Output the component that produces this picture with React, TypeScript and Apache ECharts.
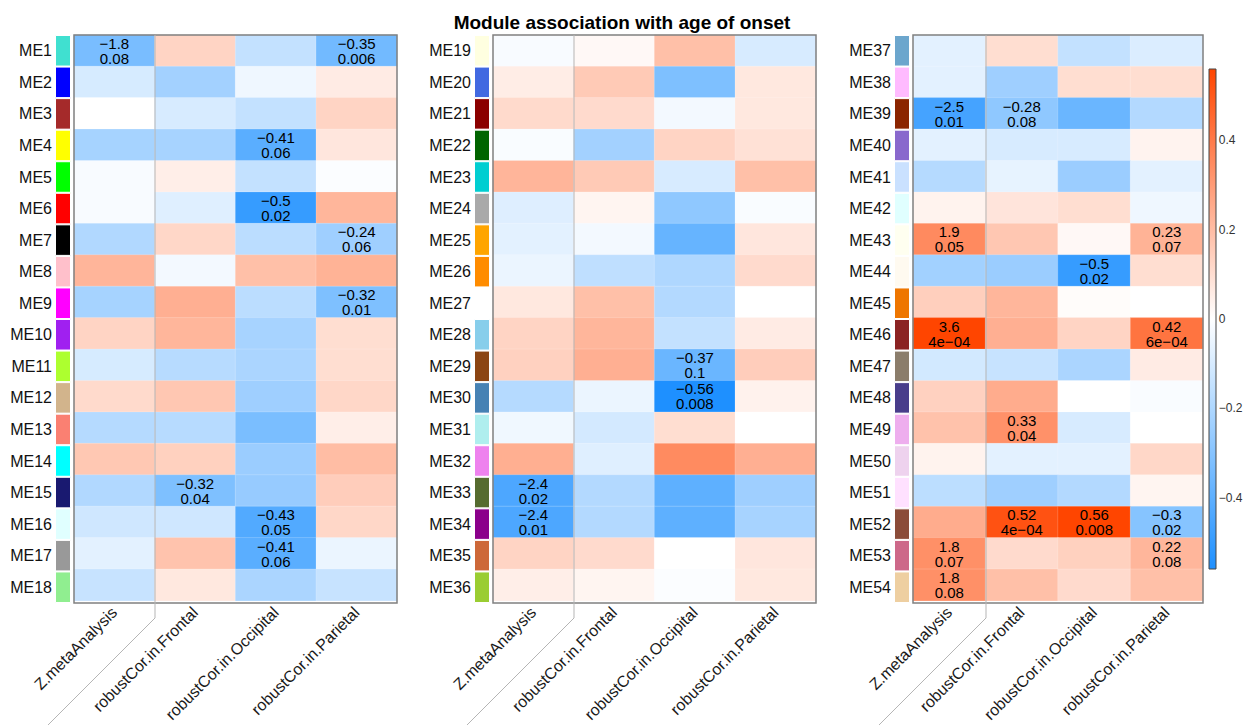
import React, { useEffect, useRef } from "react";
import * as echarts from "echarts";

const FONT = "'Liberation Sans', Arial, Helvetica, sans-serif";

const title = "Module association with age of onset";
const columns = ["Z.metaAnalysis", "robustCor.in.Frontal", "robustCor.in.Occipital", "robustCor.in.Parietal"];
const modules = [
  "ME1", "ME2", "ME3", "ME4", "ME5", "ME6", "ME7", "ME8", "ME9", "ME10", "ME11", "ME12", "ME13", "ME14", "ME15", "ME16", "ME17", "ME18",
  "ME19", "ME20", "ME21", "ME22", "ME23", "ME24", "ME25", "ME26", "ME27", "ME28", "ME29", "ME30", "ME31", "ME32", "ME33", "ME34", "ME35", "ME36",
  "ME37", "ME38", "ME39", "ME40", "ME41", "ME42", "ME43", "ME44", "ME45", "ME46", "ME47", "ME48", "ME49", "ME50", "ME51", "ME52", "ME53", "ME54",
];
const moduleColors = [
  "#40E0D0", "#0000FF", "#A52A2A", "#FFFF00", "#00FF00", "#FF0000", "#000000", "#FFC0CB", "#FF00FF", "#A020F0", "#ADFF2F", "#D2B48C", "#FA8072", "#00FFFF", "#191970", "#E0FFFF", "#999999", "#90EE90",
  "#FFFFE0", "#4169E1", "#8B0000", "#006400", "#00CED1", "#A9A9A9", "#FFA500", "#FF8C00", "#FFFFFF", "#87CEEB", "#8B4513", "#4682B4", "#AFEEEE", "#EE82EE", "#556B2F", "#8B008B", "#CD6839", "#9ACD32",
  "#6CA6CD", "#FFBBFF", "#8B2500", "#8968CD", "#CAE1FF", "#E0FFFF", "#FFFFF0", "#FFFAF0", "#EE7600", "#8B2323", "#8B7D6B", "#483D8B", "#EEAEEE", "#EED2EE", "#FFE1FF", "#8B4C39", "#CD6889", "#EECFA1",
];

// Z score of the meta-analysis (ME1..ME54)
const zScores = [
  -1.8, -0.55, 0, -1.2, -0.1, -0.1, -1.05, 1.2, -1.2, 0.7, -0.55, 0.6, -1.0, 0.9, -1.05, -0.65, -0.38, -0.75,
  -0.1, 0.3, 0.6, -0.08, 1.2, -0.45, -0.38, -0.27, 0.38, 0.7, 0.75, -1.0, -0.2, 1.3, -2.4, -2.4, 0.7, 0.27,
  -0.38, -0.38, -2.5, -0.38, -1.0, 0.2, 1.9, -1.25, 0.78, 3.6, -0.6, 0.75, 1.0, 0.2, -0.9, 1.35, 1.8, 1.8,
];
const corFrontal = [
  0.13, -0.23, -0.1, -0.22, 0.05, -0.08, 0.12, -0.03, 0.24, 0.22, -0.18, 0.17, -0.18, 0.14, -0.32, -0.12, 0.18, 0.07,
  0.02, 0.16, 0.11, -0.23, 0.16, 0.03, -0.03, -0.16, 0.19, 0.22, 0.24, -0.05, -0.11, -0.08, -0.19, -0.19, 0.11, 0.03,
  0.1, -0.24, -0.28, -0.1, -0.06, 0.08, 0.17, -0.25, 0.22, 0.24, -0.14, 0.25, 0.33, -0.07, -0.24, 0.52, 0.11, 0.19,
];
const corOccipital = [
  -0.15, -0.04, -0.15, -0.41, -0.15, -0.5, -0.17, 0.19, -0.17, -0.22, -0.21, -0.24, -0.33, -0.25, -0.26, -0.43, -0.41, -0.21,
  0.19, -0.32, -0.03, 0.13, -0.1, -0.28, -0.38, -0.2, -0.19, -0.15, -0.37, -0.56, 0.1, 0.35, -0.4, -0.4, 0, -0.01,
  -0.15, 0.1, -0.37, -0.1, -0.25, 0.1, 0.02, -0.5, 0.01, 0.13, -0.21, 0, -0.1, -0.07, -0.19, 0.56, 0.14, 0.11,
];
const corParietal = [
  -0.35, 0.06, 0.13, 0.075, -0.01, 0.22, -0.24, 0.23, -0.32, 0.1, 0.1, 0.12, 0.05, 0.2, 0.15, 0.12, -0.05, -0.14,
  -0.1, 0.07, 0.07, 0.09, 0.19, -0.015, 0.075, 0.11, 0, 0.06, 0.15, 0.04, 0, 0.24, -0.24, -0.22, 0.075, 0.07,
  -0.09, 0.1, -0.19, 0.035, -0.07, -0.04, 0.23, 0.1, 0, 0.42, 0.06, -0.015, 0, 0.12, 0.03, -0.3, 0.22, 0.19,
];
// significant cells: [module, column index, p-value text]
const pLabels: [string, number, string][] = [
  ["ME1", 0, "0.08"], ["ME1", 3, "0.006"], ["ME4", 2, "0.06"], ["ME6", 2, "0.02"], ["ME7", 3, "0.06"],
  ["ME9", 3, "0.01"], ["ME15", 1, "0.04"], ["ME16", 2, "0.05"], ["ME17", 2, "0.06"],
  ["ME29", 2, "0.1"], ["ME30", 2, "0.008"], ["ME33", 0, "0.02"], ["ME34", 0, "0.01"],
  ["ME39", 0, "0.01"], ["ME39", 1, "0.08"], ["ME43", 0, "0.05"], ["ME43", 3, "0.07"], ["ME44", 2, "0.02"],
  ["ME46", 0, "4e\u221204"], ["ME46", 3, "6e\u221204"], ["ME49", 1, "0.04"], ["ME52", 1, "4e\u221204"],
  ["ME52", 2, "0.008"], ["ME52", 3, "0.02"], ["ME53", 0, "0.07"], ["ME53", 3, "0.08"], ["ME54", 0, "0.08"],
];
const colorbarTicks = [-0.4, -0.2, 0, 0.2, 0.4];
const COLOR_MIN = -0.56;
const COLOR_MAX = 0.56;
const Z_TO_COLOR = 0.185;

// layout
const TOP = 35;
const HEIGHT = 568;
const panelHeatLeft = [74, 493, 913];
const panelHeatWidth = [323, 323, 290];
const panelSwatchLeft = [55, 474, 894];
const SWATCH_W = 16;
const CB = { x: 1209, y: 69, w: 7, h: 500 };

const ROWS = 18;

function fmt(v: number) {
  return String(v).replace("-", "\u2212");
}

function buildOption() {
  const cols = [zScores, corFrontal, corOccipital, corParietal];
  const grid: any[] = [];
  const xAxis: any[] = [];
  const yAxis: any[] = [];
  const series: any[] = [];
  const graphic: any[] = [];

  for (let p = 0; p < 3; p++) {
    const mods = modules.slice(p * ROWS, p * ROWS + ROWS);
    grid.push({ left: panelHeatLeft[p], top: TOP, width: panelHeatWidth[p], height: HEIGHT, containLabel: false });
    xAxis.push({
      type: "category", gridIndex: grid.length - 1, data: columns, position: "bottom",
      axisLine: { show: false }, axisTick: { show: false }, splitLine: { show: false },
      axisLabel: { rotate: 45, interval: 0, margin: 9, fontSize: 16, color: "#1a1a1a", fontFamily: FONT },
    });
    yAxis.push({ type: "category", gridIndex: grid.length - 1, data: mods, inverse: true, show: false });
    const data: any[] = [];
    mods.forEach((m, r) => {
      const idx = p * ROWS + r;
      for (let c = 0; c < 4; c++) {
        const raw = cols[c][idx];
        const cv = c === 0 ? raw * Z_TO_COLOR : raw;
        const v = Math.max(COLOR_MIN, Math.min(COLOR_MAX, cv));
        const lab = pLabels.find((l) => l[0] === m && l[1] === c);
        const item: any = { value: [c, r, v] };
        if (lab) {
          item.label = { show: true, formatter: fmt(raw) + "\n" + lab[2] };
        }
        data.push(item);
      }
    });
    series.push({
      type: "heatmap", xAxisIndex: xAxis.length - 1, yAxisIndex: yAxis.length - 1, data,
      label: { show: false, fontSize: 15, lineHeight: 15, color: "#000", fontFamily: FONT },
      itemStyle: { borderColor: "rgba(255,255,255,0.35)", borderWidth: 0.5 },
      emphasis: { disabled: true },
    });
  }
  for (let p = 0; p < 3; p++) {
    const mods = modules.slice(p * ROWS, p * ROWS + ROWS);
    grid.push({ left: panelSwatchLeft[p], top: TOP, width: SWATCH_W, height: HEIGHT });
    xAxis.push({ type: "value", gridIndex: grid.length - 1, min: 0, max: 1, show: false });
    yAxis.push({
      type: "category", gridIndex: grid.length - 1, data: mods, inverse: true,
      axisLine: { show: false }, axisTick: { show: false }, splitLine: { show: false },
      axisLabel: { fontSize: 16, color: "#111", margin: 3, fontFamily: FONT, interval: 0 },
    });
    series.push({
      type: "bar", xAxisIndex: xAxis.length - 1, yAxisIndex: yAxis.length - 1,
      barWidth: "100%", barCategoryGap: "0%",
      data: mods.map((m, r) => ({ value: 1, itemStyle: { color: moduleColors[p * ROWS + r] } })),
      itemStyle: { borderColor: "#fff", borderWidth: 1 },
      emphasis: { disabled: true },
      silent: true,
    });
    graphic.push({
      type: "rect", z: 100, silent: true,
      shape: { x: panelHeatLeft[p], y: TOP, width: panelHeatWidth[p], height: HEIGHT },
      style: { fill: "none", stroke: "#808080", lineWidth: 1.5 },
    });
    const bx = Math.round(panelHeatLeft[p] + panelHeatWidth[p] / 4);
    graphic.push({
      type: "polyline", z: 100, silent: true,
      shape: { points: [[bx, TOP], [bx, 618], [bx - 110, 728]] },
      style: { fill: "none", stroke: "#b5b5b5", lineWidth: 1 },
    });
  }
  // colorbar axis
  grid.push({ left: CB.x, top: CB.y, width: CB.w, height: CB.h });
  xAxis.push({ type: "value", gridIndex: grid.length - 1, show: false });
  yAxis.push({
    type: "value", gridIndex: grid.length - 1, min: COLOR_MIN, max: COLOR_MAX, position: "right",
    axisLine: { show: false }, splitLine: { show: false },
    axisTick: { show: true, length: 6, lineStyle: { color: "#444" }, customValues: colorbarTicks },
    axisLabel: {
      fontSize: 12, color: "#333", margin: 8, fontFamily: FONT, customValues: colorbarTicks,
      formatter: (v: number) => fmt(Math.round(v * 10) / 10),
    },
  });
  graphic.push({
    type: "rect", z: 90, silent: true,
    shape: { x: CB.x, y: CB.y, width: CB.w, height: CB.h },
    style: {
      fill: new echarts.graphic.LinearGradient(0, 0, 0, 1, [
        { offset: 0, color: "#FF4500" },
        { offset: 0.5, color: "#FFFFFF" },
        { offset: 1, color: "#1E90FF" },
      ]),
      stroke: "#444", lineWidth: 1,
    },
  });

  return {
    animation: false,
    backgroundColor: "#ffffff",
    title: {
      text: title, left: "center", top: 8,
      textStyle: { fontSize: 19, fontWeight: "bold", color: "#000", fontFamily: FONT },
    },
    visualMap: {
      show: false, type: "continuous", min: COLOR_MIN, max: COLOR_MAX, dimension: 2,
      seriesIndex: [0, 1, 2],
      inRange: { color: ["#1E90FF", "#FFFFFF", "#FF4500"] },
    },
    grid, xAxis, yAxis, series, graphic,
  };
}

export default function App() {
  const ref = useRef<HTMLDivElement>(null);
  useEffect(() => {
    if (!ref.current) return;
    const chart = echarts.init(ref.current, undefined, { renderer: "svg" });
    chart.setOption(buildOption() as any);
    return () => chart.dispose();
  }, []);
  return (
    <div
      ref={ref}
      style={{ position: "fixed", left: 0, top: 0, width: 1244, height: 725, background: "#fff" }}
    />
  );
}
